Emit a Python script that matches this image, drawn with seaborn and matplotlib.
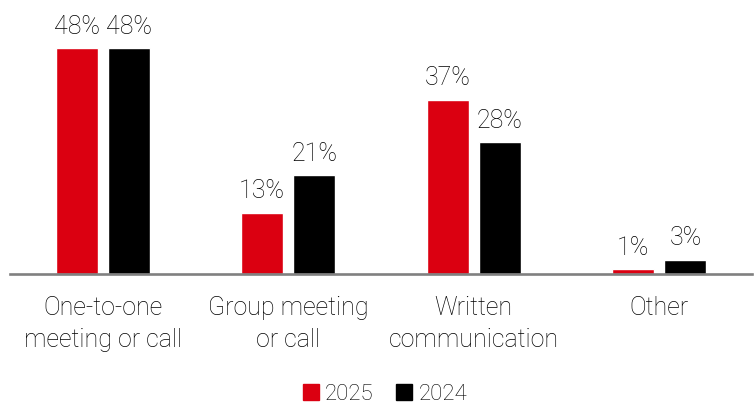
import matplotlib
matplotlib.use("Agg")
import matplotlib.pyplot as plt
import seaborn as sns
import pandas as pd

# Preferred ways of communicating, share of respondents (%)
categories = ["One-to-one\nmeeting or call", "Group meeting\nor call",
              "Written\ncommunication", "Other"]
years = ["2025", "2024"]
values_2025 = [48, 13, 37, 1]
values_2024 = [48, 21, 28, 3]

colors = {"2025": "#DB0011", "2024": "#000000"}
text_color = "#000000"

df = pd.DataFrame({
    "category": categories * 2,
    "year": ["2025"] * len(categories) + ["2024"] * len(categories),
    "share": values_2025 + values_2024,
})

sns.set_theme(style="white")
plt.rcParams["font.family"] = ["Roboto", "DejaVu Sans"]
plt.rcParams["font.weight"] = "light"

fig = plt.figure(figsize=(7.55, 4.07), dpi=100)
ax = fig.add_axes([10 / 755, 133 / 407, 742 / 755, 274 / 407])

sns.barplot(data=df, x="category", y="share", hue="year", hue_order=years,
            palette=colors, width=0.564, gap=0.2, saturation=1,
            errorbar=None, legend=False, ax=ax)

for container in ax.containers:
    ax.bar_label(container, fmt="%d%%", padding=7, fontsize=18,
                 color=text_color, fontweight="light")

ax.set_xlim(-0.5, len(categories) - 0.5)
ax.set_ylim(0, 58.3)
ax.set_xlabel("")
ax.set_ylabel("")
ax.set_yticks([])
for side in ["top", "right", "left"]:
    ax.spines[side].set_visible(False)
ax.spines["bottom"].set_color("#808080")
ax.spines["bottom"].set_linewidth(1.9)
ax.tick_params(axis="x", length=0, pad=16, labelsize=18, colors=text_color)
for lbl in ax.get_xticklabels():
    lbl.set_linespacing(1.4)
    lbl.set_fontweight("light")

handles = [plt.Rectangle((0, 0), 1, 1, color=colors[y]) for y in years]
fig.legend(handles, years, loc="center", bbox_to_anchor=(385 / 755, 1 - 394 / 407),
           ncol=2, frameon=False, handlelength=0.7, handleheight=0.7,
           handletextpad=0.3, columnspacing=1.0, labelcolor=text_color,
           prop={"size": 16, "weight": "light"})

fig.savefig("out.png", dpi=100)
